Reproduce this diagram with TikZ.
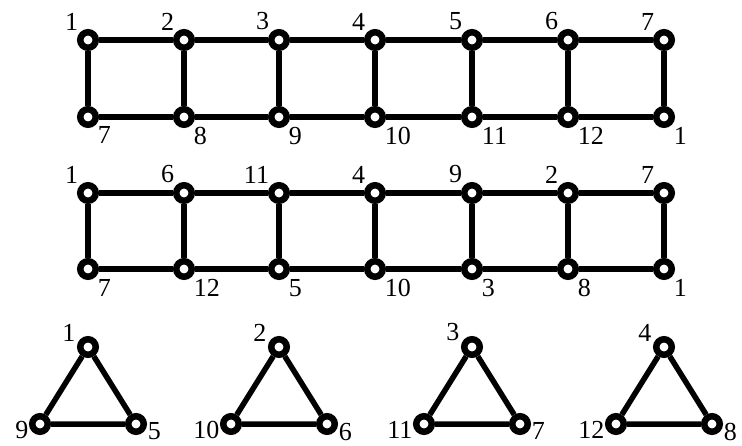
\documentclass[tikz,border=0pt]{standalone}
\usepackage{fontspec}
\setmainfont{Liberation Serif}
\usepackage{tikz}

\tikzset{
  vtx/.style={circle,draw,fill=white,line width=6.5pt,inner sep=0pt,minimum size=15.5pt},
  edge/.style={line width=5.5pt},
  lab/.style={inner sep=2pt,font=\fontsize{26}{26}\selectfont},
  tl/.style={label={[lab]135:#1}},
  br/.style={label={[lab]-45:#1}},
  ap/.style={label={[lab,anchor=south east]160:#1}},
  bl/.style={label={[lab,inner sep=1pt,anchor=north east]160:#1}},
  bri/.style={label={[lab,inner sep=1pt,anchor=north west]12:#1}},
}

\begin{document}
\begin{tikzpicture}[x=1pt,y=-1pt]
  \useasboundingbox (0,0) rectangle (742,446);
  % first ladder
  \node[vtx,tl=1]  (a1) at (88,40)  {};
  \node[vtx,tl=2]  (a2) at (184,40) {};
  \node[vtx,tl=3]  (a3) at (279,40) {};
  \node[vtx,tl=4]  (a4) at (375,40) {};
  \node[vtx,tl=5]  (a5) at (472,40) {};
  \node[vtx,tl=6]  (a6) at (568,40) {};
  \node[vtx,tl=7]  (a7) at (664,40) {};
  \node[vtx,br=7]  (b1) at (88,117)  {};
  \node[vtx,br=8]  (b2) at (184,117) {};
  \node[vtx,br=9]  (b3) at (279,117) {};
  \node[vtx,br=10] (b4) at (375,117) {};
  \node[vtx,br=11] (b5) at (472,117) {};
  \node[vtx,br=12] (b6) at (568,117) {};
  \node[vtx,br=1]  (b7) at (664,117) {};
  \draw[edge] (a1) -- (a2) -- (a3) -- (a4) -- (a5) -- (a6) -- (a7) -- (b7)
    -- (b6) -- (b5) -- (b4) -- (b3) -- (b2) -- (b1) -- (a1);
  \draw[edge] (a2) -- (b2);
  \draw[edge] (a3) -- (b3);
  \draw[edge] (a4) -- (b4);
  \draw[edge] (a5) -- (b5);
  \draw[edge] (a6) -- (b6);
  % second ladder
  \node[vtx,tl=1]  (c1) at (88,193)  {};
  \node[vtx,tl=6]  (c2) at (184,193) {};
  \node[vtx,tl=11] (c3) at (279,193) {};
  \node[vtx,tl=4]  (c4) at (375,193) {};
  \node[vtx,tl=9]  (c5) at (472,193) {};
  \node[vtx,tl=2]  (c6) at (568,193) {};
  \node[vtx,tl=7]  (c7) at (664,193) {};
  \node[vtx,br=7]  (d1) at (88,269)  {};
  \node[vtx,br=12] (d2) at (184,269) {};
  \node[vtx,br=5]  (d3) at (279,269) {};
  \node[vtx,br=10] (d4) at (375,269) {};
  \node[vtx,br=3]  (d5) at (472,269) {};
  \node[vtx,br=8]  (d6) at (568,269) {};
  \node[vtx,br=1]  (d7) at (664,269) {};
  \draw[edge] (c1) -- (c2) -- (c3) -- (c4) -- (c5) -- (c6) -- (c7) -- (d7)
    -- (d6) -- (d5) -- (d4) -- (d3) -- (d2) -- (d1) -- (c1);
  \draw[edge] (c2) -- (d2);
  \draw[edge] (c3) -- (d3);
  \draw[edge] (c4) -- (d4);
  \draw[edge] (c5) -- (d5);
  \draw[edge] (c6) -- (d6);
  % triangles
  \node[vtx,ap=1]   (t1) at (88,347)  {};
  \node[vtx,bl=9]   (l1) at (40,424)  {};
  \node[vtx,bri=5]  (r1) at (136,424) {};
  \node[vtx,ap=2]   (t2) at (279,347) {};
  \node[vtx,bl=10]  (l2) at (231,424) {};
  \node[vtx,bri=6]  (r2) at (327,424) {};
  \node[vtx,ap=3]   (t3) at (472,347) {};
  \node[vtx,bl=11]  (l3) at (424,424) {};
  \node[vtx,bri=7]  (r3) at (520,424) {};
  \node[vtx,ap=4]   (t4) at (664,347) {};
  \node[vtx,bl=12]  (l4) at (616,424) {};
  \node[vtx,bri=8]  (r4) at (712,424) {};
  \draw[edge] (t1) -- (l1) -- (r1) -- (t1);
  \draw[edge] (t2) -- (l2) -- (r2) -- (t2);
  \draw[edge] (t3) -- (l3) -- (r3) -- (t3);
  \draw[edge] (t4) -- (l4) -- (r4) -- (t4);
\end{tikzpicture}
\end{document}
